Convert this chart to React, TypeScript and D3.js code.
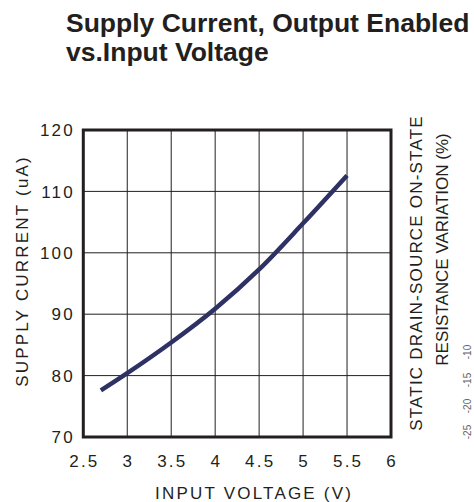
import React from "react";
import * as d3 from "d3";

const voltage = [2.7, 3.0, 3.5, 4.0, 4.5, 5.0, 5.5];
const current = [77.6, 80.4, 85.4, 90.9, 97.3, 104.8, 112.6];
const xTicks = [2.5, 3, 3.5, 4, 4.5, 5, 5.5, 6];
const yTicks = [70, 80, 90, 100, 110, 120];
const titleLines = ["Supply Current, Output Enabled", "vs.Input Voltage"];
const xTitle = "INPUT VOLTAGE (V)";
const yTitle = "SUPPLY CURRENT (uA)";
const rightTitle = ["STATIC DRAIN-SOURCE ON-STATE", "RESISTANCE VARIATION (%)"];
// tick labels of a neighbouring chart visible at the right edge
const fragmentLabels = ["-25", "-20", "-15", "-10"];
const fragmentY = [432, 406, 380, 352];

const W = 474, H = 502;
const plot = { left: 83.3, right: 391, top: 130, bottom: 437 };
const font = "'Liberation Sans', Arial, Helvetica, sans-serif";
const ink = "#231f20";

export default function App() {
  const x = d3.scaleLinear().domain([2.5, 6]).range([plot.left, plot.right]);
  const y = d3.scaleLinear().domain([70, 120]).range([plot.bottom, plot.top]);
  const pts: [number, number][] = voltage.map((v, i) => [v, current[i]]);
  const line = d3.line<[number, number]>().x(d => x(d[0])).y(d => y(d[1])).curve(d3.curveCatmullRom.alpha(0.5));
  const ls = 2.2;

  return (
    <svg width={W} height={H} style={{ position: "absolute", left: 0, top: 0, background: "#fff" }} fontFamily={font}>
      {titleLines.map((t, i) => (
        <text key={t} x={66} y={32 + i * 29} fontSize={26.5} fontWeight="bold" fill={ink}>{t}</text>
      ))}
      {xTicks.map(t => (
        <line key={"gx" + t} x1={x(t)} x2={x(t)} y1={plot.top} y2={plot.bottom} stroke={ink} strokeWidth={1} />
      ))}
      {yTicks.map(t => (
        <line key={"gy" + t} x1={plot.left} x2={plot.right} y1={y(t)} y2={y(t)} stroke={ink} strokeWidth={1} />
      ))}
      <rect x={plot.left} y={plot.top} width={plot.right - plot.left} height={plot.bottom - plot.top} fill="none" stroke={ink} strokeWidth={3} />
      <path d={line(pts) || ""} fill="none" stroke="#2e3163" strokeWidth={4.5} />
      {yTicks.map(t => (
        <text key={"yt" + t} x={72.7 + ls} y={y(t)} dy="0.36em" textAnchor="end" fontSize={17} letterSpacing={ls} fill={ink}>{t}</text>
      ))}
      {xTicks.map(t => (
        <text key={"xt" + t} x={x(t) + ls / 2} y={467} textAnchor="middle" fontSize={17} letterSpacing={ls} fill={ink}>{t}</text>
      ))}
      <text x={253 + ls / 2} y={499} textAnchor="middle" fontSize={17} letterSpacing={ls} fill={ink}>{xTitle}</text>
      <text transform={`translate(28,${272 - ls / 2}) rotate(-90)`} textAnchor="middle" fontSize={17} letterSpacing={ls} fill={ink}>{yTitle}</text>
      <text transform={`translate(422,273) rotate(-90)`} textAnchor="middle" fontSize={17} letterSpacing={1.2} fill={ink}>{rightTitle[0]}</text>
      <text transform={`translate(448,249.5) rotate(-90)`} textAnchor="middle" fontSize={17} fill={ink}>{rightTitle[1]}</text>
      {fragmentLabels.map((t, i) => (
        <text key={t} transform={`translate(471,${fragmentY[i]}) rotate(-90)`} textAnchor="middle" fontSize={10} fill="#666">{t}</text>
      ))}
    </svg>
  );
}
